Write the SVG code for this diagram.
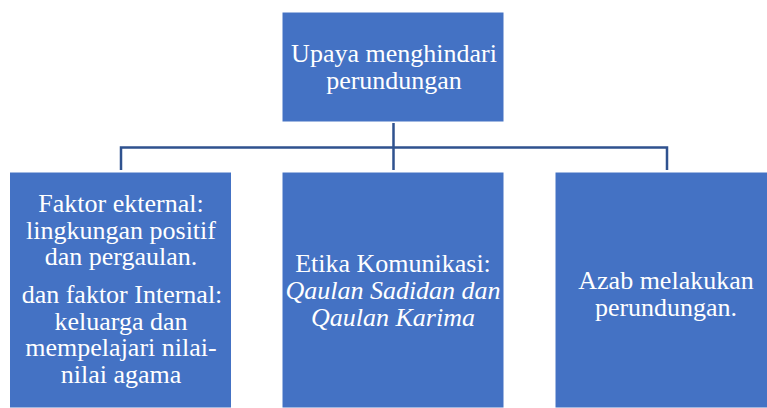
<svg xmlns="http://www.w3.org/2000/svg" width="767" height="408" viewBox="0 0 767 408">
<style>
.box{fill:#4472C4;stroke:#FFFFFF;stroke-width:1}
.t{font-family:"Liberation Serif","Times New Roman",serif;font-size:26px;fill:#FFFFFF;text-anchor:middle}
.i{font-style:italic}
.c{fill:none;stroke:#2F528F;stroke-width:2.5}
</style>
<rect width="767" height="408" fill="#FFFFFF"/>
<g id="connectors">
<path class="c" d="M393.5,123 V147.5 M121,170 V147.5 H667 V170 M393.5,147.5 V170"/>
</g>
<g id="top">
<rect class="box" x="282" y="12" width="222" height="110"/>
<text class="t"><tspan x="394" y="62">Upaya menghindari</tspan><tspan x="394" y="89">perundungan</tspan></text>
</g>
<g id="left">
<rect class="box" x="9.5" y="172" width="222" height="236"/>
<text class="t"><tspan x="121" y="212">Faktor ekternal:</tspan><tspan x="121" y="238.5">lingkungan positif</tspan><tspan x="121" y="265">dan pergaulan.</tspan></text>
<text class="t"><tspan x="122" y="303">dan faktor Internal:</tspan><tspan x="121" y="329.5">keluarga dan</tspan><tspan x="121" y="356">mempelajari nilai-</tspan><tspan x="121" y="382.5">nilai agama</tspan></text>
</g>
<g id="middle">
<rect class="box" x="282" y="172" width="222" height="236"/>
<text class="t"><tspan x="393" y="272">Etika Komunikasi:</tspan><tspan class="i" x="393" y="299">Qaulan Sadidan dan</tspan><tspan class="i" x="393" y="326">Qaulan Karima</tspan></text>
</g>
<g id="right">
<rect class="box" x="555" y="172" width="222" height="236"/>
<text class="t"><tspan x="666" y="289">Azab melakukan</tspan><tspan x="666" y="316">perundungan.</tspan></text>
</g>
</svg>
